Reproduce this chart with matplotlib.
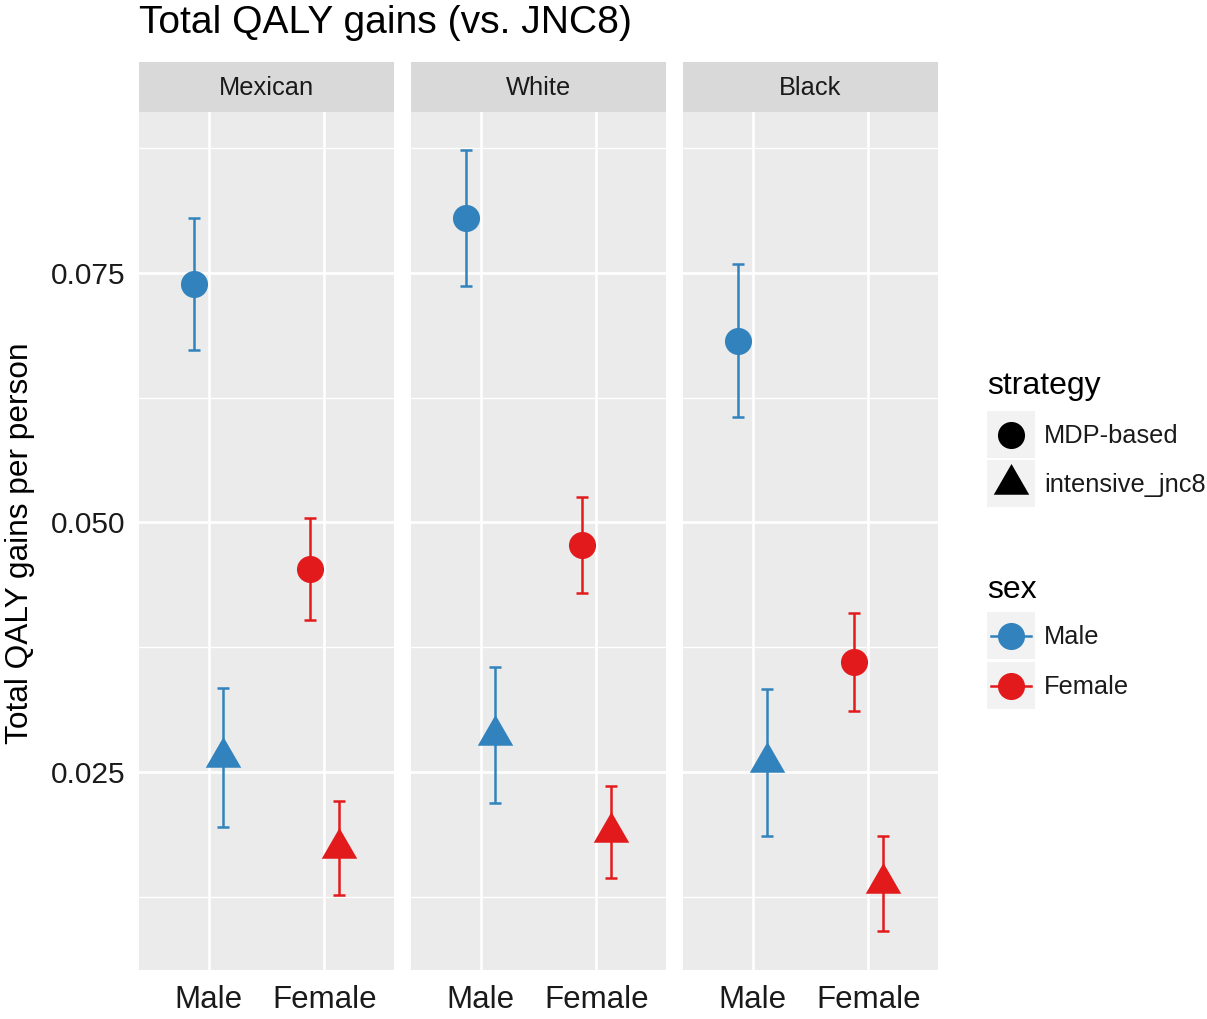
import matplotlib
matplotlib.use("Agg")
import matplotlib.pyplot as plt
from matplotlib.path import Path
from matplotlib.patches import Rectangle
from matplotlib.lines import Line2D
import numpy as np

plt.rcParams["font.family"] = ["Liberation Sans", "DejaVu Sans"]

# ---- data -------------------------------------------------------------
races = ["Mexican", "White", "Black"]
sexes = ["Male", "Female"]
strategies = ["MDP-based", "intensive_jnc8"]

# mean QALY gain per person, indexed [race][sex]
mdp_mean = [[0.0739, 0.0453], [0.0805, 0.0477], [0.0682, 0.0360]]
mdp_low = [[0.0673, 0.0402], [0.0737, 0.0429], [0.0606, 0.0311]]
mdp_high = [[0.0805, 0.0504], [0.0873, 0.0525], [0.0759, 0.0409]]

jnc_mean = [[0.02645, 0.01738], [0.02871, 0.01899], [0.02595, 0.01383]]
jnc_low = [[0.0195, 0.0127], [0.0219, 0.0144], [0.0186, 0.0091]]
jnc_high = [[0.0334, 0.0221], [0.0355, 0.0236], [0.0333, 0.0186]]

y_ticks = [0.025, 0.050, 0.075]
y_tick_labels = ["0.025", "0.050", "0.075"]

# ---- styling ----------------------------------------------------------
sex_colors = {"Male": "#3182BD", "Female": "#E31A1C"}
panel_bg = "#EBEBEB"
strip_bg = "#D9D9D9"
dodge = 0.125

# equilateral-ish triangle centred on its centroid (like R's pch 17)
tri = Path([(0, 1.555), (1.347, -0.778), (-1.347, -0.778), (0, 1.555)],
           [Path.MOVETO, Path.LINETO, Path.LINETO, Path.CLOSEPOLY])

W, H = 1207, 1019
fig = plt.figure(figsize=(W / 100, H / 100), dpi=100)

panel_x = [139, 411, 683]
panel_w = 255
panel_top, panel_bot = 112, 970
strip_top = 62

ylim = (0.00516, 0.0911)

def fx(px):
    return px / W

def fy(py):
    return 1 - py / H

axes = []
for i, race in enumerate(races):
    ax = fig.add_axes([fx(panel_x[i]), fy(panel_bot), panel_w / W,
                       (panel_bot - panel_top) / H])
    ax.set_facecolor(panel_bg)
    ax.set_xlim(0.4, 2.6)
    ax.set_ylim(*ylim)
    for s in ax.spines.values():
        s.set_visible(False)
    # grid
    for yv in y_ticks:
        ax.axhline(yv, color="white", lw=1.9, zorder=0)
    for yv in [0.0125, 0.0375, 0.0625, 0.0875]:
        ax.axhline(yv, color="white", lw=1.0, zorder=0)
    for xv in [1, 2]:
        ax.axvline(xv, color="white", lw=1.9, zorder=0)

    ax.set_xticks([1, 2])
    ax.set_xticklabels(sexes, fontsize=22.5, color="#1A1A1A")
    ax.tick_params(axis="both", length=0, pad=11)
    ax.set_yticks(y_ticks)
    if i == 0:
        ax.set_yticklabels(y_tick_labels, fontsize=21.5, color="#1A1A1A")
        ax.tick_params(axis="y", pad=10)
    else:
        ax.set_yticklabels([])

    for j, sex in enumerate(sexes):
        c = sex_colors[sex]
        x0 = j + 1
        # MDP-based (circle), dodged left
        m = mdp_mean[i][j]
        ax.errorbar([x0 - dodge], [m],
                    yerr=[[m - mdp_low[i][j]], [mdp_high[i][j] - m]],
                    fmt="none", ecolor=c, elinewidth=1.8, capsize=4.3,
                    capthick=1.8, zorder=2)
        ax.plot([x0 - dodge], [m], marker="o", ms=19.5, color=c, mec="none",
                zorder=3)
        # intensive_jnc8 (triangle), dodged right
        m = jnc_mean[i][j]
        ax.errorbar([x0 + dodge], [m],
                    yerr=[[m - jnc_low[i][j]], [jnc_high[i][j] - m]],
                    fmt="none", ecolor=c, elinewidth=1.8, capsize=4.3,
                    capthick=1.8, zorder=2)
        ax.plot([x0 + dodge], [m], marker=tri, ms=29.5, color=c, mec="none",
                zorder=3)
    axes.append(ax)

# overlay in pixel coordinates for strips, titles and legend
ov = fig.add_axes([0, 0, 1, 1], facecolor="none")
ov.set_xlim(0, W)
ov.set_ylim(H, 0)
ov.axis("off")

for i, race in enumerate(races):
    ov.add_patch(Rectangle((panel_x[i], strip_top), panel_w,
                           panel_top - strip_top, facecolor=strip_bg,
                           edgecolor="none"))
    ov.text(panel_x[i] + panel_w / 2, (strip_top + panel_top) / 2 + 1, race,
            ha="center", va="center", fontsize=18.3, color="#1A1A1A")

ov.text(139, 23, "Total QALY gains (vs. JNC8)", ha="left", va="center",
        fontsize=28.1, color="black")
ov.text(20, 543, "Total QALY gains per person", ha="center", va="center",
        rotation=90, fontsize=22.8, color="black")

# legend
key_x, key_w = 987, 48
ov.text(987, 386, "strategy", ha="left", va="center", fontsize=23)
ov.text(987, 590, "sex", ha="left", va="center", fontsize=23)

for k, (label, yc) in enumerate(zip(strategies, [435, 484])):
    ov.add_patch(Rectangle((key_x, yc - 24), key_w, 47, facecolor="#F2F2F2",
                           edgecolor="none"))
    mk = "o" if k == 0 else tri
    ms = 19.5 if k == 0 else 29.5
    ov.add_line(Line2D([key_x + key_w / 2], [yc], marker=mk, ms=ms,
                       color="black", mec="none", ls="none"))
    ov.text(1044, yc + 1, label, ha="left", va="center", fontsize=18.3,
            color="#1A1A1A")

for label, yc in zip(sexes, [636, 686]):
    c = sex_colors[label]
    ov.add_patch(Rectangle((key_x, yc - 24), key_w, 47, facecolor="#F2F2F2",
                           edgecolor="none"))
    ov.add_line(Line2D([key_x + 4, key_x + key_w - 4], [yc, yc], color=c,
                       lw=1.8))
    ov.add_line(Line2D([key_x + key_w / 2], [yc], marker="o", ms=19.5,
                       color=c, mec="none", ls="none"))
    ov.text(1044, yc + 1, label, ha="left", va="center", fontsize=18.3,
            color="#1A1A1A")

fig.savefig("out.png", dpi=100, facecolor="white")
